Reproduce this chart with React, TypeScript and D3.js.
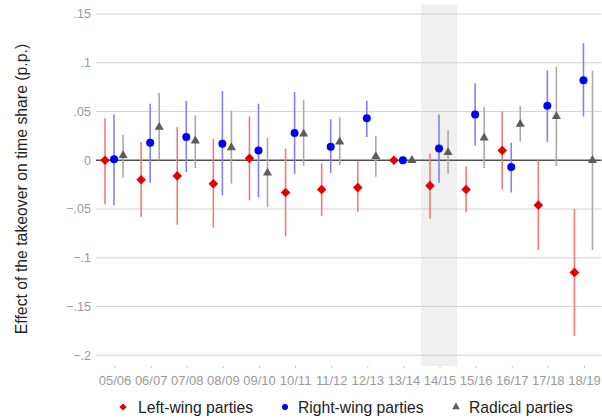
import React from "react"
import * as d3 from "d3"

const periods = ["05/06", "06/07", "07/08", "08/09", "09/10", "10/11", "11/12", "12/13", "13/14", "14/15", "15/16", "16/17", "17/18", "18/19"]
const highlighted = "14/15"

const leftEst = [0, -0.02, -0.016, -0.024, 0.002, -0.033, -0.03, -0.028, 0, -0.026, -0.03, 0.01, -0.046, -0.115]
const leftLo = [-0.045, -0.058, -0.066, -0.069, -0.041, -0.078, -0.057, -0.053, 0, -0.06, -0.053, -0.03, -0.092, -0.18]
const leftHi = [0.043, 0.019, 0.034, 0.022, 0.045, 0.012, -0.003, -0.001, 0, 0.007, -0.006, 0.05, 0.0, -0.05]

const rightEst = [0.001, 0.018, 0.024, 0.017, 0.01, 0.028, 0.014, 0.043, 0, 0.012, 0.047, -0.007, 0.056, 0.082]
const rightLo = [-0.046, -0.023, -0.012, -0.036, -0.038, -0.014, -0.013, 0.024, 0, -0.023, 0.015, -0.033, 0.019, 0.045]
const rightHi = [0.047, 0.058, 0.061, 0.071, 0.058, 0.07, 0.042, 0.061, 0, 0.047, 0.079, 0.018, 0.092, 0.12]

const radicalEst = [0.005, 0.034, 0.02, 0.013, -0.013, 0.027, 0.019, 0.004, 0, 0.008, 0.023, 0.037, 0.045, 0]
const radicalLo = [-0.018, 0.0, -0.008, -0.024, -0.048, -0.006, -0.005, -0.017, 0, -0.014, -0.008, 0.019, -0.006, -0.092]
const radicalHi = [0.026, 0.069, 0.046, 0.051, 0.023, 0.062, 0.044, 0.025, 0, 0.031, 0.055, 0.056, 0.096, 0.092]

const yTicks = [-0.2, -0.15, -0.1, -0.05, 0, 0.05, 0.1, 0.15]

const width = 602
const height = 419
const font = "'Liberation Sans', Arial, Helvetica, sans-serif"

const x = d3.scaleLinear().domain([-0.5, 13.5]).range([96, 601.5])
const y = d3.scaleLinear().domain([-0.211, 0.16]).range([366, 4.3])

const fmtY = (v: number) => {
  if (v === 0) return "0"
  return d3.format(".2~f")(v).replace("0.", ".")
}

const diamond = (cx: number, cy: number, r: number) =>
  `M${cx},${cy - r}L${cx + r},${cy}L${cx},${cy + r}L${cx - r},${cy}Z`

const triangle = d3.symbol(d3.symbolTriangle, 36)
const triangleSmall = d3.symbol(d3.symbolTriangle, 26)

const series = [
  { key: "left", est: leftEst, lo: leftLo, hi: leftHi, offset: -0.25, ci: "#f27a7a", color: "#e60000" },
  { key: "right", est: rightEst, lo: rightLo, hi: rightHi, offset: 0, ci: "#8080f8", color: "#0000f0" },
  { key: "radical", est: radicalEst, lo: radicalLo, hi: radicalHi, offset: 0.25, ci: "#a9a9a9", color: "#5c5c5c" },
]

export default function App() {
  const hi = periods.indexOf(highlighted)
  return (
    <svg width={width} height={height} style={{ position: "absolute", left: 0, top: 0, fontFamily: font }}>
      <rect x={0} y={0} width={width} height={height} fill="#fff" />
      {/* highlighted season */}
      <rect x={x(hi - 0.5)} y={y.range()[1]} width={x(hi + 0.5) - x(hi - 0.5)} height={y.range()[0] - y.range()[1]} fill="#f0f0f0" />

      {/* grid */}
      {yTicks.filter((t) => t !== 0).map((t) => (
        <line key={t} x1={x.range()[0]} x2={x.range()[1]} y1={y(t)} y2={y(t)} stroke="#d2d2d2" strokeWidth={1} />
      ))}
      {yTicks.map((t) => (
        <text key={"l" + t} x={91} y={y(t)} dy="0.35em" textAnchor="end" fontSize={12.5} fill="#9a9a9a">
          {fmtY(t)}
        </text>
      ))}
      <line x1={x.range()[0]} x2={x.range()[1]} y1={y(0)} y2={y(0)} stroke="#505050" strokeWidth={1.5} />

      {/* x axis */}
      {periods.map((p, i) => (
        <g key={p}>
          <line x1={x(i) + 1} x2={x(i) + 1} y1={366} y2={368} stroke="#c8c8c8" />
          <text x={x(i) + 1} y={385} textAnchor="middle" fontSize={13} fill="#9a9a9a">
            {p}
          </text>
        </g>
      ))}

      {/* CIs */}
      {series.map((s) =>
        periods.map((p, i) => (
          <line key={s.key + p} x1={x(i + s.offset)} x2={x(i + s.offset)} y1={y(s.lo[i])} y2={y(s.hi[i])} stroke={s.ci} strokeWidth={1.6} />
        ))
      )}

      {/* markers */}
      {periods.map((p, i) => (
        <g key={"m" + p}>
          <path d={diamond(x(i - 0.25), y(leftEst[i]), 4.8)} fill={series[0].color} />
          <circle cx={x(i)} cy={y(rightEst[i])} r={4} fill={series[1].color} />
          <path d={triangle()!} transform={`translate(${x(i + 0.25)},${y(radicalEst[i])})`} fill={series[2].color} />
        </g>
      ))}

      {/* y title */}
      <text transform="translate(27,189) rotate(-90)" textAnchor="middle" fontSize={15.8} fill="#222">
        Effect of the takeover on time share (p.p.)
      </text>

      {/* legend */}
      <g fontSize={15.7} fill="#222">
        <path d={diamond(123, 407, 3.6)} fill={series[0].color} />
        <text x={138} y={412.5}>Left-wing parties</text>
        <circle cx={285} cy={407} r={3} fill={series[1].color} />
        <text x={298} y={412.5}>Right-wing parties</text>
        <path d={triangleSmall()!} transform="translate(456,407)" fill={series[2].color} />
        <text x={469} y={412.5}>Radical parties</text>
      </g>
    </svg>
  )
}
